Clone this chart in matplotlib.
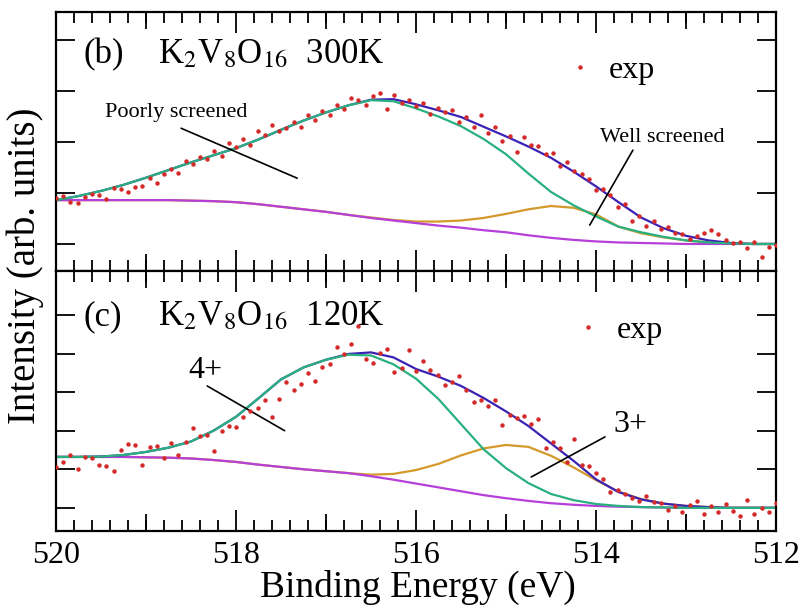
import numpy as np
import matplotlib.pyplot as plt
from matplotlib.ticker import MultipleLocator

plt.rcParams['font.family'] = ['Liberation Serif', 'DejaVu Serif']
plt.rcParams['mathtext.fontset'] = 'stix'

# Energy grids (eV): experimental points and fitted curves
E_exp = np.linspace(520, 512, 101)
E_fit = np.linspace(520, 512, 33)

# ---- (b) 300K ----
exp_b = [0.90, 0.95, 0.82, 0.80, 0.93, 0.99, 0.97, 0.88, 1.10, 1.07,
         1.02, 1.12, 1.14, 1.30, 1.20, 1.38, 1.47, 1.40, 1.63, 1.56,
         1.70, 1.66, 1.82, 1.73, 1.98, 1.90, 2.05, 1.95, 2.21, 2.14,
         2.33, 2.22, 2.28, 2.40, 2.29, 2.52, 2.44, 2.60, 2.53, 2.72,
         2.64, 2.86, 2.82, 2.72, 2.90, 2.97, 2.65, 2.93, 2.77, 2.82,
         2.70, 2.76, 2.55, 2.66, 2.58, 2.62, 2.40, 2.50, 2.29, 2.52,
         2.18, 2.30, 2.02, 2.12, 1.80, 2.09, 1.94, 1.92, 1.76, 1.78,
         1.52, 1.60, 1.43, 1.38, 1.28, 1.05, 1.08, 0.96, 0.72, 0.78,
         0.45, 0.55, 0.35, 0.46, 0.30, 0.33, 0.22, 0.20, 0.10, 0.16,
         0.22, 0.27, 0.20, 0.08, 0.02, 0.03, -0.08, 0.04, -0.25, -0.06,
         -0.02]
bg_b = [0.86, 0.86, 0.86, 0.86, 0.86, 0.86, 0.85, 0.84, 0.82, 0.78,
        0.73, 0.68, 0.63, 0.57, 0.51, 0.46, 0.41, 0.36, 0.32, 0.27,
        0.23, 0.17, 0.12, 0.08, 0.05, 0.03, 0.02, 0.01, 0.0, 0.0,
        0.0, 0.0, 0.0]
poor_b = [0.86, 0.94, 1.04, 1.16, 1.30, 1.45, 1.60, 1.74, 1.88, 2.05,
          2.24, 2.42, 2.58, 2.72, 2.82, 2.80, 2.66, 2.50, 2.31, 2.06,
          1.76, 1.38, 1.02, 0.76, 0.54, 0.34, 0.23, 0.14, 0.07, 0.03,
          0.01, 0.0, 0.0]
well_b = [0.86, 0.86, 0.86, 0.86, 0.86, 0.86, 0.85, 0.84, 0.82, 0.78,
          0.73, 0.68, 0.63, 0.57, 0.52, 0.47, 0.44, 0.44, 0.46, 0.51,
          0.59, 0.68, 0.745, 0.71, 0.58, 0.34, 0.21, 0.13, 0.07, 0.03,
          0.01, 0.0, 0.0]
total_b = [0.86, 0.94, 1.04, 1.16, 1.30, 1.45, 1.60, 1.74, 1.88, 2.05,
           2.24, 2.42, 2.58, 2.72, 2.83, 2.84, 2.74, 2.62, 2.49, 2.30,
           2.11, 1.91, 1.69, 1.42, 1.13, 0.82, 0.52, 0.31, 0.16, 0.07,
           0.02, 0.0, 0.0]

# ---- (c) 120K ----
exp_c = [1.06, 1.20, 1.36, 1.02, 1.33, 1.30, 1.12, 1.08, 0.95, 1.50,
         1.66, 1.62, 1.10, 1.57, 1.60, 1.29, 1.67, 1.38, 1.72, 2.07,
         1.85, 1.90, 1.47, 2.00, 2.12, 2.10, 2.36, 2.52, 2.60, 2.80,
         2.35, 2.82, 3.26, 3.05, 3.20, 3.50, 3.28, 3.65, 3.72, 4.17,
         4.00, 4.25, 4.72, 3.85, 3.75, 4.02, 4.12, 3.52, 3.62, 4.10,
         3.55, 3.80, 3.58, 3.45, 3.18, 3.25, 3.42, 3.05, 2.75, 2.80,
         2.65, 2.80, 2.15, 2.40, 2.33, 2.38, 2.17, 2.30, 1.55, 1.70,
         1.55, 1.20, 1.79, 1.10, 1.08, 0.90, 0.75, 0.40, 0.45, 0.35,
         0.25, 0.18, 0.30, 0.15, 0.12, -0.05, 0.05, -0.12, 0.08, 0.18,
         -0.15, 0.05, -0.10, 0.10, -0.08, -0.22, 0.20, -0.15, 0.00, -0.12,
         0.12]
bg_c = [1.32, 1.32, 1.32, 1.32, 1.31, 1.30, 1.28, 1.24, 1.19, 1.12,
        1.06, 1.00, 0.95, 0.90, 0.82, 0.73, 0.63, 0.53, 0.43, 0.33,
        0.25, 0.18, 0.12, 0.08, 0.05, 0.03, 0.02, 0.01, 0.0, 0.0,
        0.0, 0.0, 0.0]
v4_c = [1.32, 1.32, 1.33, 1.37, 1.45, 1.56, 1.72, 2.00, 2.36, 2.84,
        3.33, 3.64, 3.84, 3.97, 3.95, 3.72, 3.35, 2.82, 2.17, 1.52,
        1.03, 0.64, 0.36, 0.20, 0.10, 0.05, 0.02, 0.01, 0.0, 0.0,
        0.0, 0.0, 0.0]
v3_c = [1.32, 1.32, 1.32, 1.32, 1.31, 1.30, 1.28, 1.24, 1.19, 1.12,
        1.06, 1.00, 0.95, 0.90, 0.86, 0.88, 0.98, 1.14, 1.36, 1.54,
        1.63, 1.58, 1.35, 1.05, 0.72, 0.42, 0.23, 0.11, 0.05, 0.02,
        0.0, 0.0, 0.0]
total_c = [1.32, 1.32, 1.33, 1.37, 1.45, 1.56, 1.72, 2.00, 2.36, 2.84,
           3.33, 3.64, 3.84, 3.99, 4.03, 3.90, 3.60, 3.40, 3.16, 2.85,
           2.50, 2.12, 1.67, 1.22, 0.74, 0.41, 0.22, 0.11, 0.05, 0.02,
           0.0, 0.0, 0.0]

c_bg = '#b63fd9'
c_peak1 = '#2ab07f'
c_peak2 = '#d39a2b'
c_tot = '#3b22b5'
c_exp = '#d42a2a'

W, H = 803, 608
fig = plt.figure(figsize=(W / 100, H / 100), dpi=100)
ax_b = fig.add_axes([56 / W, 1 - 271 / H, 720 / W, 259 / H])
ax_c = fig.add_axes([56 / W, 1 - 531 / H, 720 / W, 260 / H])


def style_axis(ax, yticks, ylim, labels):
    ax.set_xlim(520, 512)
    ax.set_ylim(*ylim)
    ax.xaxis.set_major_locator(MultipleLocator(2))
    ax.xaxis.set_minor_locator(MultipleLocator(0.2))
    ax.set_yticks(yticks)
    ax.tick_params(which='both', direction='in', top=True, right=True, width=1.3)
    ax.tick_params(axis='x', which='major', length=15)
    ax.tick_params(axis='x', which='minor', length=8)
    ax.tick_params(axis='y', length=14, labelleft=False)
    ax.tick_params(axis='x', labelbottom=labels, labelsize=23, pad=7)
    for s in ax.spines.values():
        s.set_linewidth(1.6)
    # medium ticks at odd energies
    for loc in ('top', 'bottom'):
        sec = ax.secondary_xaxis(loc)
        sec.set_xticks([519, 517, 515, 513])
        sec.tick_params(direction='in', length=12, width=1.3,
                        labelbottom=False, labeltop=False)
        for s in sec.spines.values():
            s.set_visible(False)


def draw_panel(ax, bg, p1, p2, tot, exp):
    ax.plot(E_fit, p2, color=c_peak2, lw=1.6)
    ax.plot(E_fit, bg, color=c_bg, lw=1.6)
    ax.plot(E_fit, tot, color=c_tot, lw=1.6)
    ax.plot(E_fit, p1, color=c_peak1, lw=1.6)
    ax.plot(E_exp, exp, 'o', color=c_exp, ms=3.2, mec='none', label='exp', zorder=5)


draw_panel(ax_b, bg_b, poor_b, well_b, total_b, exp_b)
draw_panel(ax_c, bg_c, v4_c, v3_c, total_c, exp_c)
style_axis(ax_b, [0, 1, 2, 3, 4], (-0.53, 4.55), False)
style_axis(ax_c, [0, 1, 2, 3, 4, 5], (-0.60, 6.14), True)

# panel titles
ax_b.text(0.038, 0.803, '(b)', transform=ax_b.transAxes, fontsize=25, va='baseline')
ax_b.text(0.142, 0.803, r'K$_2$V$_8$O$_{16}$  300K', transform=ax_b.transAxes,
          fontsize=25, va='baseline')
ax_c.text(0.038, 0.792, '(c)', transform=ax_c.transAxes, fontsize=25, va='baseline')
ax_c.text(0.142, 0.792, r'K$_2$V$_8$O$_{16}$  120K', transform=ax_c.transAxes,
          fontsize=25, va='baseline')

# legends
ax_b.legend(loc='center left', bbox_to_anchor=(0.7056, 0.776), frameon=False,
            fontsize=23, handlelength=1.0, handletextpad=0.4, borderpad=0,
            borderaxespad=0, numpoints=1)
ax_c.legend(loc='center left', bbox_to_anchor=(0.717, 0.773), frameon=False,
            fontsize=23, handlelength=1.0, handletextpad=0.4, borderpad=0,
            borderaxespad=0, numpoints=1)

# peak labels with pointer lines
line_kw = dict(arrowstyle='-', color='black', lw=1.2, shrinkA=0, shrinkB=0)
ax_b.text(0.068, 0.595, 'Poorly screened', transform=ax_b.transAxes, fontsize=16, va='baseline')
ax_b.annotate('', xy=(517.32, 1.29), xytext=(518.61, 2.27), arrowprops=line_kw)
ax_b.text(0.7556, 0.498, 'Well screened', transform=ax_b.transAxes, fontsize=16, va='baseline')
ax_b.annotate('', xy=(514.07, 0.37), xytext=(513.59, 1.84), arrowprops=line_kw)
ax_c.text(0.1833, 0.588, '4+', transform=ax_c.transAxes, fontsize=23, va='baseline')
ax_c.annotate('', xy=(517.46, 2.0), xytext=(518.32, 3.16), arrowprops=line_kw)
ax_c.text(0.7736, 0.381, '3+', transform=ax_c.transAxes, fontsize=23, va='baseline')
ax_c.annotate('', xy=(514.72, 0.80), xytext=(513.9, 1.84), arrowprops=line_kw)

# axis labels
ax_c.set_xlabel('Binding Energy (eV)', fontsize=27)
ax_c.xaxis.set_label_coords(0.502, -0.15)
fig.text(25 / W, 1 - 266 / H, 'Intensity (arb. units)', rotation=90,
         ha='center', va='center', fontsize=28)

fig.savefig('out.png', dpi=100)
